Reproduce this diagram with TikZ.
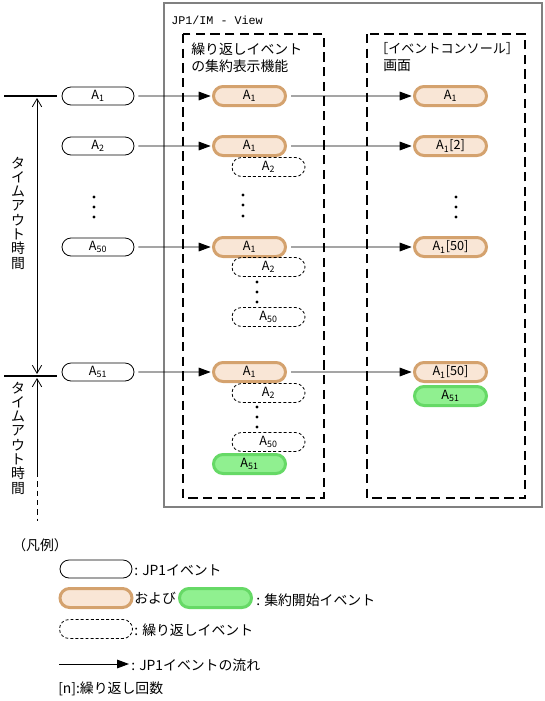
\documentclass[tikz,border=0pt]{standalone}
\usepackage{fontspec}
\setmainfont{Noto Sans CJK JP}
\newfontfamily\monofont{Liberation Mono}
\usetikzlibrary{shapes.misc,arrows.meta}
\definecolor{orgB}{HTML}{D4A26E}
\definecolor{orgF}{HTML}{F9E6D6}
\definecolor{grnB}{HTML}{66D966}
\definecolor{grnF}{HTML}{90F090}
\definecolor{frameC}{HTML}{808080}
\tikzset{
  evbase/.style={rounded rectangle, inner sep=0pt, minimum width=54pt, font=\fontsize{9.5}{10}\selectfont},
  ev/.style={evbase, draw=black, line width=0.6pt, minimum height=13.5pt},
  agg/.style={evbase, draw=orgB, fill=orgF, line width=2.25pt, minimum height=14.25pt},
  startev/.style={evbase, draw=grnB, fill=grnF, line width=2.25pt, minimum height=14.25pt},
  rep/.style={evbase, draw=black, line width=0.6pt, dash pattern=on 2.2pt off 1.6pt, minimum width=54.75pt, minimum height=14.25pt},
  flow/.style={-{Triangle[length=9pt,width=6.5pt]}, line width=0.7pt},
  dotc/.style={circle, fill=black, inner sep=0pt, minimum size=2.6pt},
  grpbox/.style={draw=black, line width=1.5pt, dash pattern=on 7pt off 4pt},
  txt/.style={anchor=west, inner sep=0pt, font=\fontsize{10.4}{12}\selectfont},
  vtxt/.style={align=center, inner sep=0pt, font=\fontsize{10.4}{10.7}\selectfont},
  barb/.style={line width=0.6pt},
}
\begin{document}
\begin{tikzpicture}[x=0.75pt,y=-0.75pt]
\useasboundingbox (0,0) rectangle (545,701);
% frames
\draw[frameC, line width=0.9pt] (164,3) rectangle (542,507);
\node[anchor=west, inner sep=0pt, font=\monofont\fontsize{8.8}{10}\selectfont] (title) at (171,20) {JP1/IM - View};
\draw[grpbox] (183,34) rectangle (324,498);
\draw[grpbox] (367,34) rectangle (525,498);
\node[txt] (h1a) at (191,49) {繰り返しイベント};
\node[txt] (h1b) at (191,66) {の集約表示機能};
\node[txt, font=\fontsize{9.8}{12}\selectfont] (h2a) at (375,49) {［イベントコンソール］};
\node[txt] (h2b) at (383,66) {画面};
% left column
\node[ev] (L1) at (98,96) {A\textsubscript{1}};
\node[ev] (L2) at (98,146) {A\textsubscript{2}};
\node[ev] (L50) at (98,247) {A\textsubscript{50}};
\node[ev] (L51) at (98,372) {A\textsubscript{51}};
\node[dotc] (ld1) at (94,197) {};
\node[dotc] (ld2) at (94,207) {};
\node[dotc] (ld3) at (94,217) {};
% middle column
\node[agg] (M1) at (249.5,96) {A\textsubscript{1}};
\node[agg] (M2) at (249.5,146) {A\textsubscript{1}};
\node[rep] (R2a) at (268.5,167) {A\textsubscript{2}};
\node[dotc] (md1) at (243,195) {};
\node[dotc] (md2) at (243,205) {};
\node[dotc] (md3) at (243,216) {};
\node[agg] (M50) at (249.5,247) {A\textsubscript{1}};
\node[rep] (R2b) at (268.5,267) {A\textsubscript{2}};
\node[dotc] (me1) at (257,282) {};
\node[dotc] (me2) at (257,292) {};
\node[dotc] (me3) at (257,302) {};
\node[rep] (R50b) at (268.5,317) {A\textsubscript{50}};
\node[agg] (M51) at (249.5,372) {A\textsubscript{1}};
\node[rep] (R2c) at (268.5,393) {A\textsubscript{2}};
\node[dotc] (mf1) at (257,407) {};
\node[dotc] (mf2) at (257,417) {};
\node[dotc] (mf3) at (257,427) {};
\node[rep] (R50c) at (268.5,442) {A\textsubscript{50}};
\node[startev] (G51) at (249.5,464) {A\textsubscript{51}};
% right column
\node[agg] (C1) at (450.5,96) {A\textsubscript{1}};
\node[agg] (C2) at (450.5,146) {A\textsubscript{1}[2]};
\node[dotc] (rd1) at (456,197) {};
\node[dotc] (rd2) at (456,207) {};
\node[dotc] (rd3) at (456,217) {};
\node[agg] (C50) at (450.5,247) {A\textsubscript{1}[50]};
\node[agg] (C51) at (450.5,372) {A\textsubscript{1}[50]};
\node[startev] (CG) at (450.5,396) {A\textsubscript{51}};
% flows
\foreach \a/\b in {L1/M1,M1/C1,L2/M2,M2/C2,L50/M50,M50/C50,L51/M51,M51/C51}
  \draw[flow, shorten <=3pt, shorten >=1pt] (\a) -- (\b);
% timeline
\coordinate (t1a) at (4,96);
\coordinate (t1b) at (57,96);
\coordinate (t2a) at (4,376);
\coordinate (t2b) at (57,376);
\draw[line width=1.6pt] (t1a) -- (t1b);
\draw[line width=1.6pt] (t2a) -- (t2b);
\coordinate (va) at (37,98);
\coordinate (vb) at (37,374);
\coordinate (vc) at (37,378);
\coordinate (vd) at (37,472);
\coordinate (ve) at (37,521);
\draw[barb, {Straight Barb[length=6pt,width=7pt]}-{Straight Barb[length=6pt,width=7pt]}] (va) -- (vb);
\draw[barb, {Straight Barb[length=6pt,width=7pt]}-] (vc) -- (vd);
\draw[barb, dash pattern=on 4pt off 3pt] (vd) -- (ve);
\node[vtxt] (tv1) at (18,213) {タ\\イ\\ム\\ア\\ウ\\ト\\時\\間};
\node[vtxt] (tv2) at (18,438) {タ\\イ\\ム\\ア\\ウ\\ト\\時\\間};
% legend
\node[txt] (lg) at (12,545) {（凡例）};
\node[ev] (LW) at (96,569) {};
\node[txt] (lw) at (134,570) {: JP1イベント};
\node[agg] (LO) at (96,598) {};
\node[txt] (lo) at (134,598) {および};
\node[startev] (LG) at (215.5,598) {};
\node[txt] (lgt) at (256,600) {: 集約開始イベント};
\node[rep] (LR) at (96,629) {};
\node[txt] (lr) at (134,630) {: 繰り返しイベント};
\coordinate (la) at (59,664);
\coordinate (lb) at (129,664);
\draw[flow] (la) -- (lb);
\node[txt] (lf) at (131,665) {: JP1イベントの流れ};
\node[txt] (ln) at (58,689) {[n]:繰り返し回数};
\end{tikzpicture}
\end{document}
